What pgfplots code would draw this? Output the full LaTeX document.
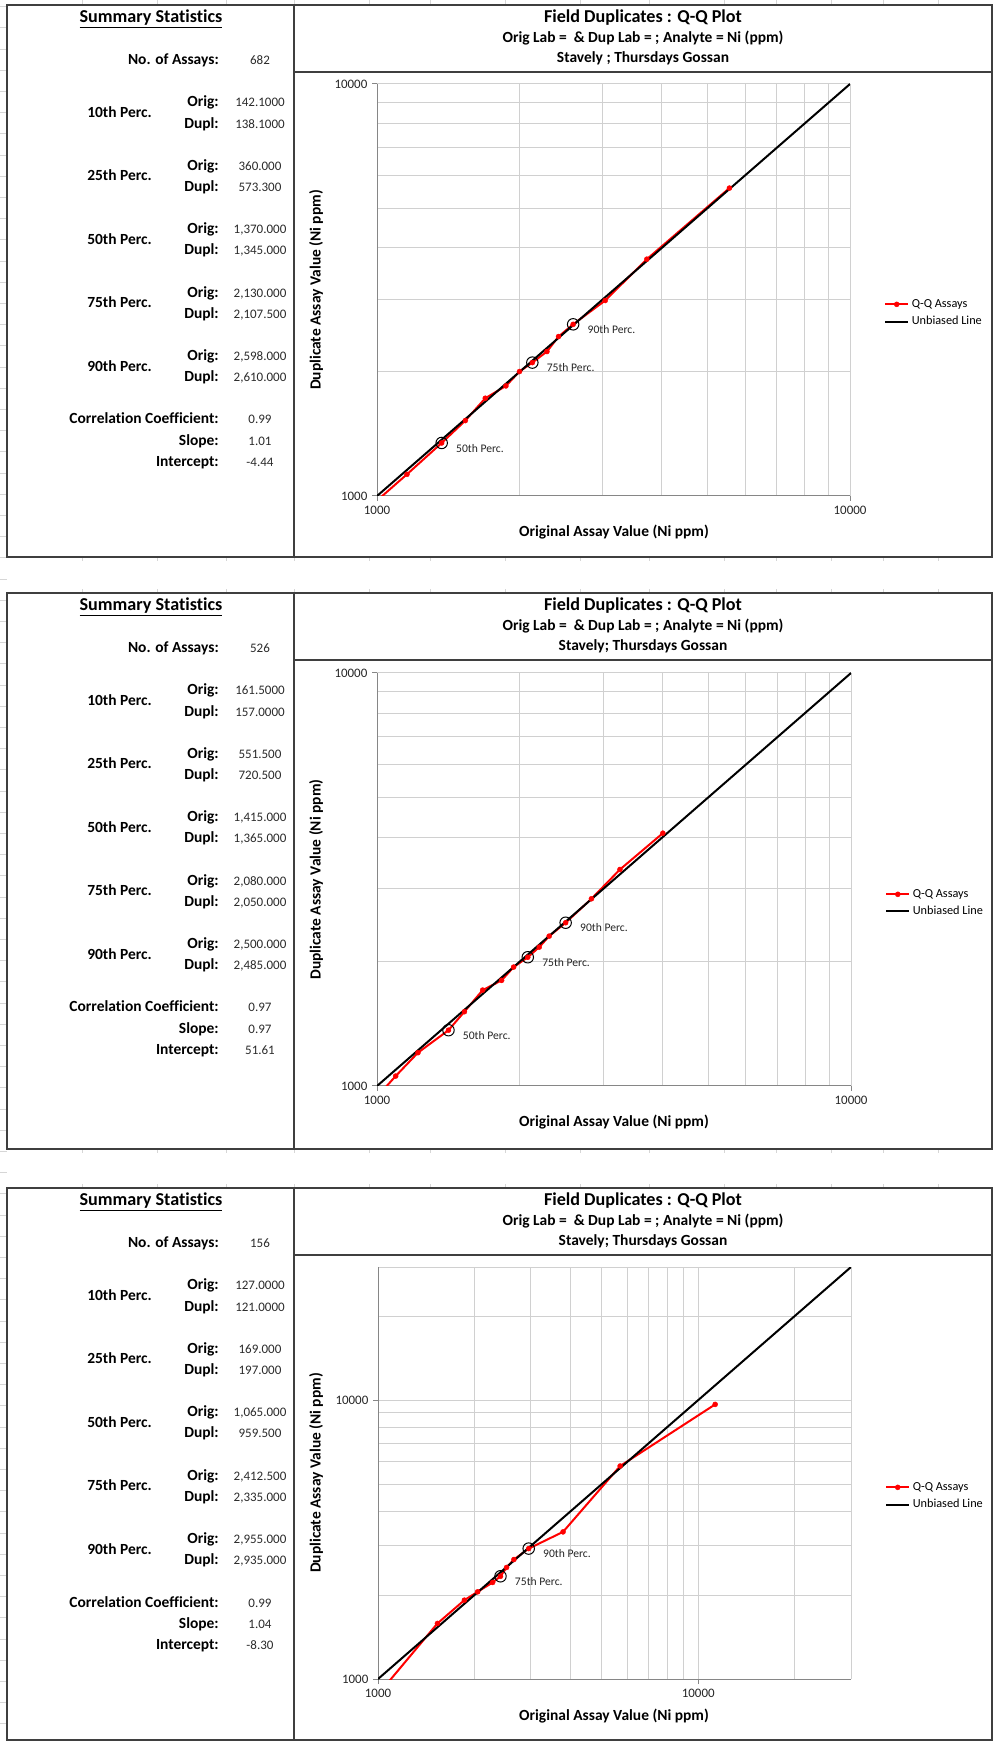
\documentclass[border=0pt]{standalone}
\usepackage{fontspec}
\setmainfont{Carlito}[Ligatures={NoCommon}]
\usepackage{pgfplots}
\pgfplotsset{compat=1.18}

\definecolor{gridgray}{HTML}{D0D0D0}
\definecolor{axisgray}{HTML}{868686}
\definecolor{framegray}{HTML}{3F3F3F}
\definecolor{sheetgray}{HTML}{D6D6D6}
\definecolor{qqred}{HTML}{FF0000}
\definecolor{valtext}{HTML}{2B2B2B}

\newcommand{\fT}{\fontsize{13.6}{16}\selectfont\bfseries}
\newcommand{\fS}{\fontsize{11.6}{14}\selectfont\bfseries}
\newcommand{\fV}{\fontsize{9.75}{12}\selectfont}
\newcommand{\fK}{\fontsize{9.7}{12}\selectfont}
\newcommand{\fL}{\fontsize{9.2}{11}\selectfont}
\newcommand{\fP}{\fontsize{8.7}{10}\selectfont}

\newcommand{\lab}[3]{%
  \node[font=\fS, anchor=mid east, inner sep=0pt] at (219,#1) {#2};
  \node[font=\fV, text=valtext, anchor=mid, inner sep=0pt] at (260,#1) {#3};}
\newcommand{\perc}[4]{%
  \lab{#1}{Orig:}{#3}
  \lab{#1+21.14}{Dupl:}{#4}
  \node[font=\fS, anchor=mid west, inner sep=0pt] at (87,#1+10.57) {#2};}
\newcommand{\sumhead}{%
  \node[font=\fT, anchor=mid, inner sep=0pt] at (151,14.3) {\underline{Summary Statistics}};}
\newcommand{\titleblock}[1]{%
  \node[font=\fT, anchor=mid, inner sep=0pt] at (643,14.3) {Field Duplicates : Q-Q Plot};
  \node[font=\fS, anchor=mid, inner sep=0pt] at (643,34.5) {Orig Lab =\ \ \& Dup Lab = ; Analyte = Ni (ppm)};
  \node[font=\fS, anchor=mid, inner sep=0pt] at (643,54.5) {#1};}

\begin{document}
\begin{tikzpicture}
\path[use as bounding box] (0,0) rectangle (745.5pt,-1306.5pt);
\begin{scope}[x=0.75pt,y=-0.75pt]
  \fill[white] (0,0) rectangle (994,1742);
  \foreach \x in {82,157,226,294,369,430,505,580,649,724,776,831,883,938} {
    \draw[sheetgray, line width=0.75pt] (\x,0) -- (\x,5);
    \draw[sheetgray, line width=0.75pt] (\x,557) -- (\x,561);
    \draw[sheetgray, line width=0.75pt] (\x,589) -- (\x,593);
    \draw[sheetgray, line width=0.75pt] (\x,1149) -- (\x,1153);
    \draw[sheetgray, line width=0.75pt] (\x,1184) -- (\x,1188);
  }
  \foreach \k in {0,...,82} {
    \draw[sheetgray, line width=0.75pt] (0,6.7+21.2*\k) -- (7,6.7+21.2*\k);
  }
  \foreach \T/\B in {5/557, 593/1149, 1188/1740} {
    \draw[framegray, line width=1.1pt, fill=white] (7,\T) rectangle (992,\B);
    \draw[framegray, line width=1.1pt] (294,\T) -- (294,\B);
    \draw[framegray, line width=1.1pt] (294,\T+67) -- (992,\T+67);
  }
  \begin{scope}[shift={(0,5)}]
    \sumhead
    \lab{56.4}{No. of Assays:}{682}
    \perc{98.7}{10th Perc.}{142.1000}{138.1000}
    \perc{162.0}{25th Perc.}{360.000}{573.300}
    \perc{225.5}{50th Perc.}{1,370.000}{1,345.000}
    \perc{288.9}{75th Perc.}{2,130.000}{2,107.500}
    \perc{352.3}{90th Perc.}{2,598.000}{2,610.000}
    \lab{415.8}{Correlation Coefficient:}{0.99}
    \lab{436.9}{Slope:}{1.01}
    \lab{458.0}{Intercept:}{-4.44}
    \titleblock{Stavely ; Thursdays Gossan}
  \end{scope}
  \begin{scope}[shift={(0,593)}]
    \sumhead
    \lab{56.4}{No. of Assays:}{526}
    \perc{98.7}{10th Perc.}{161.5000}{157.0000}
    \perc{162.0}{25th Perc.}{551.500}{720.500}
    \perc{225.5}{50th Perc.}{1,415.000}{1,365.000}
    \perc{288.9}{75th Perc.}{2,080.000}{2,050.000}
    \perc{352.3}{90th Perc.}{2,500.000}{2,485.000}
    \lab{415.8}{Correlation Coefficient:}{0.97}
    \lab{436.9}{Slope:}{0.97}
    \lab{458.0}{Intercept:}{51.61}
    \titleblock{Stavely; Thursdays Gossan}
  \end{scope}
  \begin{scope}[shift={(0,1188)}]
    \sumhead
    \lab{56.4}{No. of Assays:}{156}
    \perc{98.7}{10th Perc.}{127.0000}{121.0000}
    \perc{162.0}{25th Perc.}{169.000}{197.000}
    \perc{225.5}{50th Perc.}{1,065.000}{959.500}
    \perc{288.9}{75th Perc.}{2,412.500}{2,335.000}
    \perc{352.3}{90th Perc.}{2,955.000}{2,935.000}
    \lab{415.8}{Correlation Coefficient:}{0.99}
    \lab{436.9}{Slope:}{1.04}
    \lab{458.0}{Intercept:}{-8.30}
    \titleblock{Stavely; Thursdays Gossan}
  \end{scope}
  \foreach \xl/\yl in {533/290, 1123/879.5, 1717/1473} {
    \node[font=\fS, anchor=mid, inner sep=0pt] at (614,\xl) {Original Assay Value (Ni ppm)};
    \node[font=\fS, anchor=mid, inner sep=0pt, rotate=90] at (317.5,\yl) {Duplicate Assay Value (Ni ppm)};
  }
\end{scope}

% ---------- panel 1 ----------
\begin{axis}[
    at={(282.75pt,-372pt)}, anchor=south west,
    scale only axis, width=354.75pt, height=309pt,
    xmode=log, ymode=log,
    xmin=1000, xmax=10000, ymin=1000, ymax=10000,
    xtick={1000,10000}, ytick={1000,10000},
    xticklabels={1000,10000}, yticklabels={1000,10000},
    minor xtick={2000,3000,4000,5000,6000,7000,8000,9000},
    minor ytick={2000,3000,4000,5000,6000,7000,8000,9000},
    axis x line*=bottom, axis y line*=left,
    axis line style={-, draw=axisgray, line width=0.75pt},
    grid=both,
    major grid style={draw=gridgray, line width=0.75pt},
    minor grid style={draw=gridgray, line width=0.75pt},
    tick align=outside,
    major tick length=3.75pt, minor tick length=0pt,
    tick style={draw=axisgray, line width=0.75pt},
    tick label style={font=\fK, text=black!85},
    legend style={at={(rel axis cs:1.072,0.444)}, anchor=west, draw=none, fill=none,
      font=\fL, inner sep=0pt, row sep=1.2pt},
    legend cell align=left,
  ]
\addplot[qqred, line width=1.5pt, mark=*, mark size=1.9pt,
    mark options={solid, fill=qqred, draw=qqred, line width=0.3pt}] coordinates {
  (985,960) (1157,1129) (1370,1345) (1537,1524) (1694,1727) (1873,1850)
  (2001,2005) (2130,2107.5) (2287,2242) (2420,2438) (2598,2610)
  (3037,2982) (3719,3757) (5559,5589)};
\addlegendentry{Q-Q Assays}
\addplot[black, line width=1.5pt] coordinates {(1000,1000) (10000,10000)};
\addlegendentry{Unbiased Line}
\addplot[only marks, mark=o, mark size=4.3pt, black, line width=0.75pt, forget plot,
    point meta=explicit symbolic, nodes near coords,
    nodes near coords style={anchor=mid west, inner sep=0pt, xshift=10.5pt, yshift=-4.5pt,
      font=\fP, text=black!85}]
  coordinates {(1370,1345)[50th Perc.] (2130,2107.5)[75th Perc.] (2598,2610)[90th Perc.]};
\end{axis}

% ---------- panel 2 ----------
\begin{axis}[
    at={(282.75pt,-814.5pt)}, anchor=south west,
    scale only axis, width=355.5pt, height=309.75pt,
    xmode=log, ymode=log,
    xmin=1000, xmax=10000, ymin=1000, ymax=10000,
    xtick={1000,10000}, ytick={1000,10000},
    xticklabels={1000,10000}, yticklabels={1000,10000},
    minor xtick={2000,3000,4000,5000,6000,7000,8000,9000},
    minor ytick={2000,3000,4000,5000,6000,7000,8000,9000},
    axis x line*=bottom, axis y line*=left,
    axis line style={-, draw=axisgray, line width=0.75pt},
    grid=both,
    major grid style={draw=gridgray, line width=0.75pt},
    minor grid style={draw=gridgray, line width=0.75pt},
    tick align=outside,
    major tick length=3.75pt, minor tick length=0pt,
    tick style={draw=axisgray, line width=0.75pt},
    tick label style={font=\fK, text=black!85},
    legend style={at={(rel axis cs:1.072,0.443)}, anchor=west, draw=none, fill=none,
      font=\fL, inner sep=0pt, row sep=1.2pt},
    legend cell align=left,
  ]
\addplot[qqred, line width=1.5pt, mark=*, mark size=1.9pt,
    mark options={solid, fill=qqred, draw=qqred, line width=0.3pt}] coordinates {
  (1040,990) (1095,1057) (1220,1204) (1415,1365) (1529,1513) (1671,1707)
  (1832,1802) (1942,1941) (2080,2050) (2199,2169) (2308,2306) (2500,2485)
  (2834,2840) (3255,3344) (4009,4094)};
\addlegendentry{Q-Q Assays}
\addplot[black, line width=1.5pt] coordinates {(1000,1000) (10000,10000)};
\addlegendentry{Unbiased Line}
\addplot[only marks, mark=o, mark size=4.3pt, black, line width=0.75pt, forget plot,
    point meta=explicit symbolic, nodes near coords,
    nodes near coords style={anchor=mid west, inner sep=0pt, xshift=10.5pt, yshift=-4.5pt,
      font=\fP, text=black!85}]
  coordinates {(1415,1365)[50th Perc.] (2080,2050)[75th Perc.] (2500,2485)[90th Perc.]};
\end{axis}

% ---------- panel 3 ----------
\begin{axis}[
    at={(283.5pt,-1259.25pt)}, anchor=south west,
    scale only axis, width=354.75pt, height=309pt,
    xmode=log, ymode=log,
    xmin=1000, xmax=30000, ymin=1000, ymax=30000,
    xtick={1000,10000}, ytick={1000,10000},
    xticklabels={1000,10000}, yticklabels={1000,10000},
    minor xtick={2000,3000,4000,5000,6000,7000,8000,9000,20000,30000},
    minor ytick={2000,3000,4000,5000,6000,7000,8000,9000,20000,30000},
    axis x line*=bottom, axis y line*=left,
    axis line style={-, draw=axisgray, line width=0.75pt},
    grid=both,
    major grid style={draw=gridgray, line width=0.75pt},
    minor grid style={draw=gridgray, line width=0.75pt},
    tick align=outside,
    major tick length=3.75pt, minor tick length=0pt,
    tick style={draw=axisgray, line width=0.75pt},
    tick label style={font=\fK, text=black!85},
    legend style={at={(rel axis cs:1.072,0.444)}, anchor=west, draw=none, fill=none,
      font=\fL, inner sep=0pt, row sep=1.2pt},
    legend cell align=left,
  ]
\addplot[qqred, line width=1.5pt, mark=*, mark size=1.9pt,
    mark options={solid, fill=qqred, draw=qqred, line width=0.3pt}] coordinates {
  (1065,959.5) (1533,1582) (1861,1918) (2047,2054) (2280,2219) (2412.5,2335)
  (2520,2511) (2657,2682) (2955,2935) (3783,3369) (5704,5803) (11295,9650)};
\addlegendentry{Q-Q Assays}
\addplot[black, line width=1.5pt] coordinates {(1000,1000) (30000,30000)};
\addlegendentry{Unbiased Line}
\addplot[only marks, mark=o, mark size=4.3pt, black, line width=0.75pt, forget plot,
    point meta=explicit symbolic, nodes near coords,
    nodes near coords style={anchor=mid west, inner sep=0pt, xshift=10.5pt, yshift=-4.5pt,
      font=\fP, text=black!85}]
  coordinates {(2412.5,2335)[75th Perc.] (2955,2935)[90th Perc.]};
\end{axis}
\end{tikzpicture}
\end{document}
